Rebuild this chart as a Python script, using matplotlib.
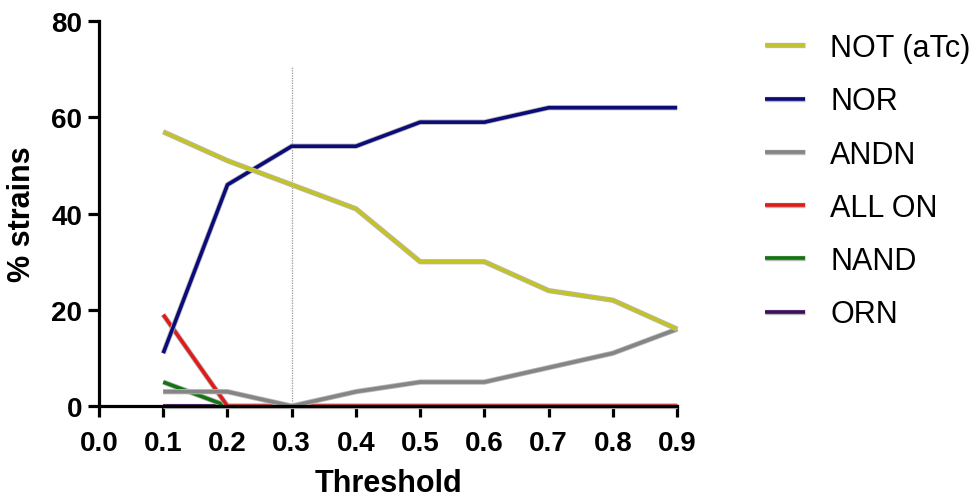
import matplotlib
matplotlib.use("Agg")
import matplotlib.pyplot as plt
import matplotlib.patheffects as pe

plt.rcParams['font.family'] = ['Liberation Sans', 'DejaVu Sans']

thresholds = [0.1, 0.2, 0.3, 0.4, 0.5, 0.6, 0.7, 0.8, 0.9]
not_atc = [57, 51, 46, 41, 30, 30, 24, 22, 16]
nor = [11, 46, 54, 54, 59, 59, 62, 62, 62]
andn = [3, 3, 0, 3, 5, 5, 8, 11, 16]
all_on = [19, 0, 0, 0, 0, 0, 0, 0, 0]
nand = [5, 0, 0, 0, 0, 0, 0, 0, 0]
orn = [0, 0, 0, 0, 0, 0, 0, 0, 0]

series = [
    ("NOT (aTc)", not_atc, "#c3c325"),
    ("NOR", nor, "#0b0b7a"),
    ("ANDN", andn, "#858585"),
    ("ALL ON", all_on, "#e01b1b"),
    ("NAND", nand, "#127512"),
    ("ORN", orn, "#3e0f5c"),
]

fig = plt.figure(figsize=(9.8, 5.02), dpi=100)
ax = fig.add_axes([0.101, 0.189, 0.59, 0.767])

edge = [pe.Stroke(linewidth=3.8, foreground="#b8b8b8"), pe.Normal()]
# back to front so red sits on top along zero
handles = {}
for name, vals, col in reversed(series):
    h, = ax.plot(thresholds, vals, color=col, lw=2.6, label=name,
                 path_effects=edge, solid_capstyle='butt', clip_on=False)
    handles[name] = h

ax.plot([0.3, 0.3], [0, 70.5], color="#999999", lw=0.9, ls=(0, (1, 1)), zorder=1)

ax.set_xlim(0, 0.9)
ax.set_ylim(0, 80)
ax.set_xticks([i / 10 for i in range(10)])
ax.set_xticklabels(["%.1f" % (i / 10) for i in range(10)])
ax.set_yticks([0, 20, 40, 60, 80])

for s in ["top", "right"]:
    ax.spines[s].set_visible(False)
for s in ["left", "bottom"]:
    ax.spines[s].set_linewidth(2.3)
ax.tick_params(width=2.3, length=8, labelsize=20, direction='out')
ax.tick_params(axis='x', pad=9)
ax.tick_params(axis='y', pad=4)
for lab in ax.get_xticklabels() + ax.get_yticklabels():
    lab.set_fontweight('bold')

ax.set_xlabel("Threshold", fontsize=22, fontweight='bold', labelpad=9)
ax.set_ylabel("% strains", fontsize=22, fontweight='bold', labelpad=10)

leg = fig.legend([handles[n] for n, _, _ in series], [n for n, _, _ in series],
                 loc='upper left', bbox_to_anchor=(0.781, 0.932), frameon=False,
                 borderpad=0, borderaxespad=0,
                 fontsize=22, handlelength=1.3, handletextpad=0.82, labelspacing=0.76)

fig.savefig("out.png", dpi=100)
